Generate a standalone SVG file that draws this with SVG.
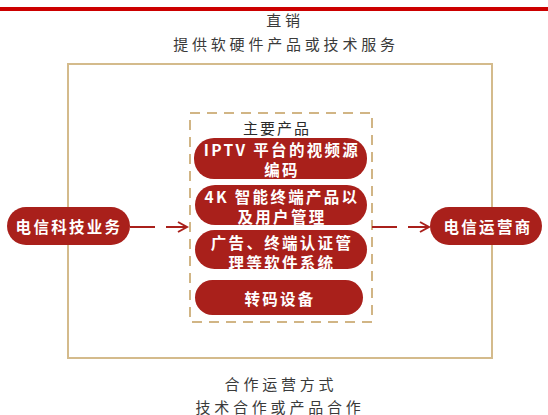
<svg xmlns="http://www.w3.org/2000/svg" width="548" height="415" viewBox="0 0 548 415">
<defs>
<style>
.lbl{font-family:"Noto Sans CJK SC","Liberation Sans",sans-serif;font-size:15px;fill:#3a3a3a;text-anchor:middle;dominant-baseline:central;letter-spacing:3.8px}
.pill{fill:#a9201b}
.pt{font-family:"Noto Sans CJK SC","Liberation Sans",sans-serif;font-size:15.5px;font-weight:bold;fill:#ffffff;text-anchor:middle;dominant-baseline:central;letter-spacing:2.3px}
.conn{stroke:#a9201b;stroke-width:2;fill:none;stroke-dasharray:25 11}
</style>
<marker id="arr" markerWidth="12" markerHeight="12" refX="10" refY="6" orient="auto" markerUnits="userSpaceOnUse">
<path d="M1,1 L10,6 L1,11" fill="none" stroke="#a9201b" stroke-width="2"/>
</marker>
</defs>
<rect x="0" y="0" width="548" height="415" fill="#ffffff"/>
<rect x="0" y="7" width="548" height="4" fill="#cc0000"/>
<text class="lbl" x="285" y="19">直销</text>
<text class="lbl" x="286" y="43">提供软硬件产品或技术服务</text>
<rect id="outer" x="68" y="64" width="424" height="294" fill="none" stroke="#d4bb8c" stroke-width="2"/>
<g id="products">
<rect x="190" y="113" width="182" height="209" fill="none" stroke="#d1b585" stroke-width="2" stroke-dasharray="10 7"/>
<text class="lbl" x="277" y="127" style="fill:#2a2a2a;letter-spacing:2px">主要产品</text>
</g>
<g id="p1">
<rect class="pill" x="194" y="138" width="173" height="41" rx="20"/>
<text class="pt" x="282" y="149">IPTV 平台的视频源</text>
<text class="pt" x="282" y="169">编码</text>
</g>
<g id="p2">
<rect class="pill" x="195" y="185" width="172" height="40" rx="20"/>
<text class="pt" x="282" y="196">4K 智能终端产品以</text>
<text class="pt" x="282" y="216">及用户管理</text>
</g>
<g id="p3">
<rect class="pill" x="195" y="230" width="172" height="39" rx="19.5"/>
<text class="pt" x="282" y="242">广告、终端认证管</text>
<text class="pt" x="282" y="262">理等软件系统</text>
</g>
<g id="p4">
<rect class="pill" x="195" y="280" width="168" height="35" rx="17.5"/>
<text class="pt" x="280" y="298">转码设备</text>
</g>
<g id="left">
<rect class="pill" x="7" y="207" width="123" height="38" rx="19"/>
<text class="pt" x="69" y="226">电信科技业务</text>
</g>
<g id="right">
<rect class="pill" x="430" y="207" width="112" height="38" rx="19"/>
<text class="pt" x="488" y="226">电信运营商</text>
</g>
<g id="connectors">
<path class="conn" d="M130,227 L187,227" marker-end="url(#arr)"/>
<path class="conn" d="M372,227 L429,227" marker-end="url(#arr)"/>
</g>
<text class="lbl" x="281" y="383">合作运营方式</text>
<text class="lbl" x="280" y="406">技术合作或产品合作</text>
</svg>
